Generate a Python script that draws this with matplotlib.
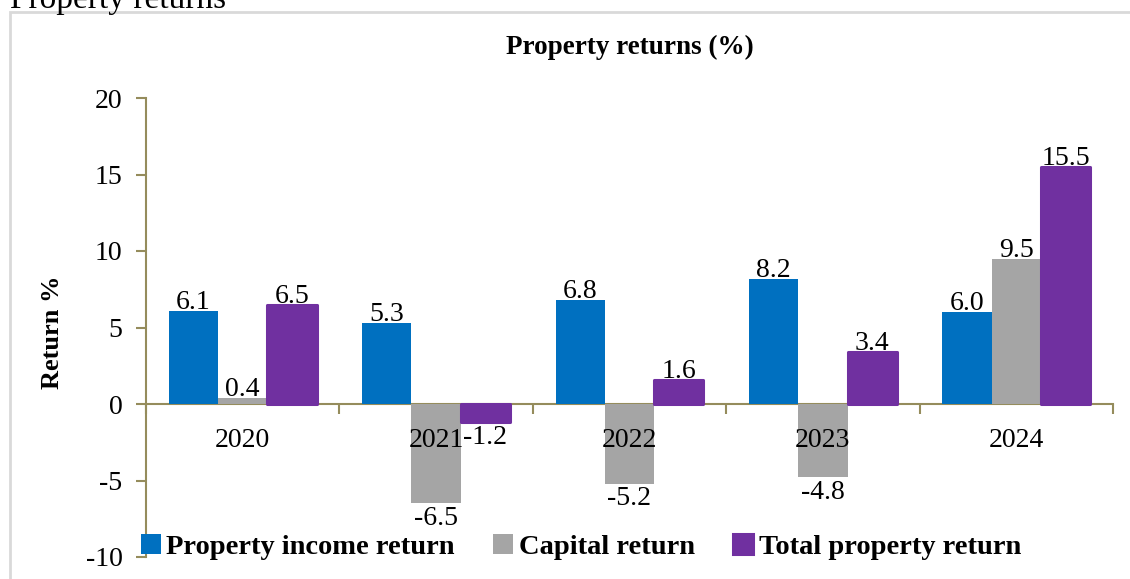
import matplotlib.pyplot as plt
import numpy as np
from matplotlib.patches import Rectangle

plt.rcParams['font.family'] = ['Liberation Serif', 'DejaVu Serif']

years = ['2020', '2021', '2022', '2023', '2024']
income = [6.1, 5.3, 6.8, 8.2, 6.0]
capital = [0.4, -6.5, -5.2, -4.8, 9.5]
total = [6.5, -1.2, 1.6, 3.4, 15.5]
names = ['Property income return', 'Capital return', 'Total property return']
colors = ['#0070C0', '#A5A5A5', '#7030A0']

axis_col = '#958C5C'

fig = plt.figure(figsize=(11.3, 5.79), dpi=100)

# chart frame (only top and left visible)
fig.patches.append(Rectangle((10 / 1130, -0.1), 1.2, (579 - 12) / 579 + 0.1,
                             transform=fig.transFigure, fill=False,
                             edgecolor='#D9D9D9', linewidth=2))
fig.text(10 / 1130, 1.0, 'Property returns', fontsize=24, va='center', ha='left')

ax = fig.add_axes([146 / 1130, 1 - 557 / 579, (1113 - 146) / 1130, (557 - 98) / 579])

x = np.arange(len(years))
w = 0.255
b1 = ax.bar(x - w, income, w, color=colors[0], label=names[0], zorder=2)
b2 = ax.bar(x, capital, w, color=colors[1], label=names[1], zorder=2)
b3 = ax.bar(x + w, total, w, color=colors[2], label=names[2], zorder=2,
            edgecolor=colors[2], linewidth=2.2, joinstyle='round')

for bars in (b1, b2, b3):
    for r in bars:
        v = r.get_height()
        cx = r.get_x() + r.get_width() / 2
        if v >= 0:
            ax.annotate(f'{v:.1f}', (cx, v), xytext=(0, -3), textcoords='offset points',
                        ha='center', va='bottom', fontsize=20, zorder=3)
        else:
            ax.annotate(f'{v:.1f}', (cx, v), xytext=(0, -2), textcoords='offset points',
                        ha='center', va='top', fontsize=20, zorder=3)

ax.set_xlim(-0.5, 4.5)
ax.set_ylim(-10, 20)
ax.set_yticks([-10, -5, 0, 5, 10, 15, 20])
ax.set_yticklabels(['-10', '-5', '0', '5', '10', '15', '20'])
ax.set_xticks(x)
ax.set_xticklabels(years)
ax.set_xticks(np.arange(-0.5, 5, 1), minor=True)
ax.tick_params(axis='x', which='major', length=0, pad=17, labelsize=20)
ax.tick_params(axis='x', which='minor', length=7, color=axis_col, width=1.5)
ax.tick_params(axis='y', length=7, color=axis_col, width=1.5, labelsize=20, pad=10)
ax.xaxis.set_zorder(3)

for s in ['top', 'right']:
    ax.spines[s].set_visible(False)
ax.spines['bottom'].set_position(('data', 0))
ax.spines['bottom'].set_color(axis_col)
ax.spines['left'].set_color(axis_col)
ax.spines['bottom'].set_linewidth(1.5)
ax.spines['left'].set_linewidth(1.5)
ax.spines['bottom'].set_zorder(1)

ax.set_ylabel('Return %', fontsize=19, fontweight='bold')
ax.yaxis.set_label_coords(-0.085, 0.49)
ax.set_title('Property returns (%)', fontsize=19.5, fontweight='bold', pad=0, y=1.095)

leg = fig.legend(handles=[b1, b2, b3], loc='center', bbox_to_anchor=(581 / 1130, 1 - 547 / 579),
                 ncol=3, frameon=False, prop={'weight': 'bold', 'size': 20.5},
                 handlelength=0.7, handleheight=0.7, handletextpad=0.2, columnspacing=1.35,
                 borderaxespad=0)

fig.savefig('out.png', dpi=100)
